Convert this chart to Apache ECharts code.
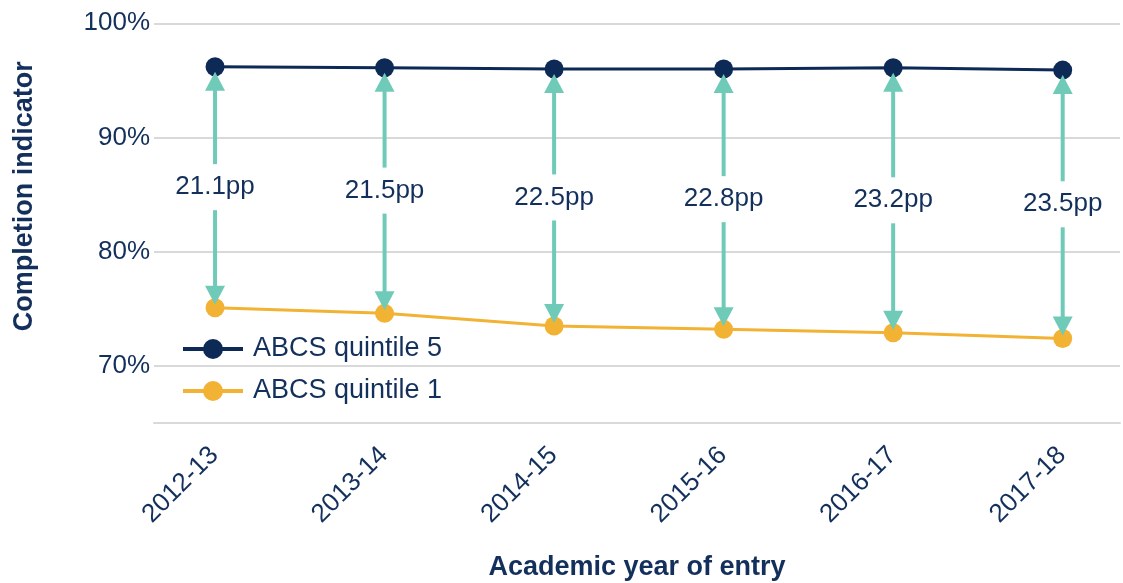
<!DOCTYPE html>
<html>
<head>
<meta charset="utf-8">
<title>Completion indicator by ABCS quintile</title>
<script src="https://cdn.jsdelivr.net/npm/echarts@6/dist/echarts.min.js"></script>
<style>
  html, body { margin: 0; padding: 0; background: #fff; }
  #chart { width: 1123px; height: 583px; }
</style>
</head>
<body>
<div id="chart"></div>
<script>
// values
const years = ['2012-13', '2013-14', '2014-15', '2015-16', '2016-17', '2017-18']
const quintile5 = [96.2, 96.1, 96.0, 96.0, 96.1, 95.9]
const quintile1 = [75.1, 74.6, 73.5, 73.2, 72.9, 72.4]
const gapLabels = [21.1, 21.5, 22.5, 22.8, 23.2, 23.5]
const yTicks = [70, 80, 90, 100]

const navy = '#0d2a56'
const textNavy = '#13305c'
const orange = '#f2b233'
const teal = '#6fcbb8'
const gridGrey = '#d9d9d9'
const font = 'Liberation Sans, Arial, sans-serif'

const myChart = echarts.init(document.getElementById('chart'), null, { renderer: 'canvas' })

// double headed arrow between the two lines, label in the middle
function renderArrow(params, api) {
    const top = api.coord([api.value(0), api.value(1)])
    const bot = api.coord([api.value(0), api.value(2)])
    const mid = api.coord([api.value(0), (api.value(1) + api.value(2)) / 2])
    const x = top[0]
    const y1 = top[1] + 5
    const y2 = bot[1] - 3
    const head = 19, hw = 10, gap = 23
    const stroke = { stroke: teal, lineWidth: 4 }
    return {
        type: 'group',
        children: [
            { type: 'line', shape: { x1: x, y1: y1 + head - 1, x2: x, y2: mid[1] - gap }, style: stroke },
            { type: 'line', shape: { x1: x, y1: mid[1] + gap, x2: x, y2: y2 - head + 1 }, style: stroke },
            { type: 'polygon', shape: { points: [[x, y1], [x - hw, y1 + head], [x + hw, y1 + head]] }, style: { fill: teal } },
            { type: 'polygon', shape: { points: [[x, y2], [x - hw, y2 - head], [x + hw, y2 - head]] }, style: { fill: teal } },
            {
                type: 'text', x: x, y: mid[1],
                style: {
                    text: api.value(3).toFixed(1) + 'pp',
                    fill: textNavy, font: '26px ' + font,
                    align: 'center', verticalAlign: 'middle'
                }
            }
        ]
    }
}

const option = {
    animation: false,
    textStyle: { fontFamily: font },
    grid: {
        left: 154,
        right: 3,
        top: 23.3,
        bottom: 160,
        outerBoundsMode: 'none'
    },
    legend: {
        orient: 'vertical',
        left: 176,
        top: 330.5,
        itemWidth: 60,
        itemHeight: 25,
        itemGap: 15,
        lineStyle: { width: 4 },
        textStyle: { fontSize: 27, color: textNavy, fontFamily: font, padding: [0, 0, 0, 5] },
        data: ['ABCS quintile 5', 'ABCS quintile 1']
    },
    xAxis: {
        type: 'value',
        min: -0.36,
        max: 5.338,
        name: 'Academic year of entry',
        nameLocation: 'middle',
        nameGap: 131,
        nameTextStyle: { fontSize: 27, fontWeight: 'bold', color: textNavy, fontFamily: font },
        axisLine: { show: true, onZero: false, lineStyle: { color: gridGrey, width: 2 } },
        axisTick: { show: false },
        splitLine: { show: false },
        axisLabel: {
            customValues: years.map((_, i) => i),
            formatter: (v) => years[v] || '',
            rotate: 45,
            align: 'right',
            verticalAlign: 'top',
            margin: 9,
            padding: [0, 14, 0, 0],
            fontSize: 26,
            color: textNavy,
            fontFamily: font
        }
    },
    yAxis: {
        type: 'value',
        min: 65,
        max: 100,
        interval: 5,
        name: 'Completion indicator',
        nameLocation: 'middle',
        nameGap: 116,
        nameTextStyle: { fontSize: 27, fontWeight: 'bold', color: textNavy, fontFamily: font, padding: [0, 0, 0, 54] },
        axisLine: { show: false },
        axisTick: { show: false },
        axisLabel: {
            margin: 4,
            fontSize: 26,
            color: textNavy,
            fontFamily: font,
            formatter: (v) => yTicks.includes(v) ? v + '%' : ''
        },
        splitLine: {
            show: true,
            lineStyle: { color: ['transparent', gridGrey], width: 2 }
        }
    },
    series: [
        {
            name: 'ABCS quintile 5',
            type: 'line',
            data: years.map((_, i) => [i, quintile5[i]]),
            symbol: 'circle',
            symbolSize: 19,
            lineStyle: { color: navy, width: 3 },
            itemStyle: { color: navy },
            z: 3
        },
        {
            name: 'ABCS quintile 1',
            type: 'line',
            data: years.map((_, i) => [i, quintile1[i]]),
            symbol: 'circle',
            symbolSize: 19,
            lineStyle: { color: orange, width: 3 },
            itemStyle: { color: orange },
            z: 3
        },
        {
            name: 'gap',
            type: 'custom',
            renderItem: renderArrow,
            data: years.map((_, i) => [i, quintile5[i], quintile1[i], gapLabels[i]]),
            encode: { x: 0, y: [1, 2] },
            silent: true,
            z: 5
        }
    ]
}

myChart.setOption(option)
window.addEventListener('resize', () => myChart.resize())
</script>
</body>
</html>
